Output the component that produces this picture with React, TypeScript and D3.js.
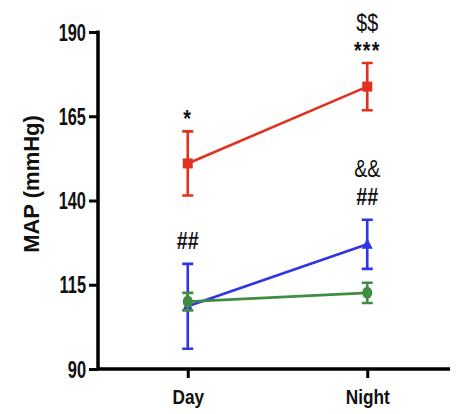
import * as d3 from "d3";
import React from "react";

// categories and values
const categories = ["Day", "Night"];
const yTicks = [90, 115, 140, 165, 190];

const redMeans = [151, 173.8];
const redErrors = [9.5, 7];
const redNotes = [["*"], ["***", "$$"]];

const blueMeans = [108.6, 127];
const blueErrors = [12.6, 7.3];
const blueNotes = [["##"], ["##", "&&"]];

const greenMeans = [110, 112.6];
const greenErrors = [2.6, 3];
const greenNotes: string[][] = [[], []];

const W = 461;
const H = 414;
const FONT = "'Liberation Sans', Arial, Helvetica, sans-serif";

export default function App() {
  const ref = React.useRef<SVGSVGElement>(null);

  React.useEffect(() => {
    if (!ref.current) return;
    const svg = d3.select(ref.current);
    svg.selectAll("*").remove();

    const left = 98;
    const top = 32;
    const bottom = 369;

    const y = d3.scaleLinear().domain([90, 190]).range([bottom, top]);
    const x = d3.scalePoint<string>().domain(categories).range([left, 457]).padding(0.5);

    const series = [
      { means: redMeans, errors: redErrors, notes: redNotes, color: "#e2321f", marker: "square" },
      { means: blueMeans, errors: blueErrors, notes: blueNotes, color: "#2f34e4", marker: "triangle" },
      { means: greenMeans, errors: greenErrors, notes: greenNotes, color: "#3f8c42", marker: "circle" },
    ];

    // y axis (labels squeezed to look like a condensed face)
    const yAxis = svg
      .append("g")
      .attr("transform", `translate(${left},0)`)
      .call(d3.axisLeft(y).tickValues(yTicks).tickSize(9).tickPadding(3).tickSizeOuter(0));
    yAxis.select(".domain").remove();
    yAxis.selectAll(".tick line").attr("stroke", "#000").attr("stroke-width", 3);
    yAxis
      .selectAll(".tick text")
      .attr("fill", "#111")
      .attr("font-family", FONT)
      .attr("font-weight", "bold")
      .attr("font-size", 20)
      .attr("dy", null)
      .attr("x", 0)
      .attr("y", 7)
      .attr("transform", "translate(-12,0) scale(0.82,1.15)");

    // x axis
    const xAxis = svg
      .append("g")
      .attr("transform", `translate(0,${bottom})`)
      .call(d3.axisBottom(x).tickSize(9).tickPadding(6).tickSizeOuter(0));
    xAxis.select(".domain").remove();
    xAxis.selectAll(".tick line").attr("stroke", "#000").attr("stroke-width", 3);
    xAxis
      .selectAll(".tick text")
      .attr("fill", "#111")
      .attr("font-family", FONT)
      .attr("font-weight", "bold")
      .attr("font-size", 21)
      .attr("dy", "0.95em")
      .attr("transform", "scale(0.82,1)");

    svg
      .append("path")
      .attr("d", `M${left},${top - 1.5}V${bottom}H450`)
      .attr("fill", "none")
      .attr("stroke", "#000")
      .attr("stroke-width", 3.5);

    svg
      .append("text")
      .attr("transform", `translate(39,184) rotate(-90)`)
      .attr("text-anchor", "middle")
      .attr("font-family", FONT)
      .attr("font-weight", "bold")
      .attr("font-size", 22)
      .attr("fill", "#111")
      .text("MAP (mmHg)");

    const line = d3
      .line<number>()
      .x((_, i) => x(categories[i]) as number)
      .y((d) => y(d));

    series.forEach((s) => {
      const g = svg.append("g");
      g.append("path")
        .attr("d", line(s.means))
        .attr("fill", "none")
        .attr("stroke", s.color)
        .attr("stroke-width", 2.6);

      s.means.forEach((m, i) => {
        const cx = x(categories[i]) as number;
        const hi = y(m + s.errors[i]);
        const lo = y(m - s.errors[i]);
        g.append("path")
          .attr("d", `M${cx},${hi}V${lo}M${cx - 5.5},${hi}H${cx + 5.5}M${cx - 5.5},${lo}H${cx + 5.5}`)
          .attr("fill", "none")
          .attr("stroke", s.color)
          .attr("stroke-width", 2.6);

        const cy = y(m);
        if (s.marker === "square") {
          g.append("rect")
            .attr("x", cx - 5)
            .attr("y", cy - 5)
            .attr("width", 10)
            .attr("height", 10)
            .attr("fill", s.color);
        } else if (s.marker === "triangle") {
          g.append("path")
            .attr("d", `M${cx},${cy - 6}L${cx + 5.5},${cy + 4.5}L${cx - 5.5},${cy + 4.5}Z`)
            .attr("fill", s.color);
        } else {
          g.append("ellipse")
            .attr("cx", cx)
            .attr("cy", cy)
            .attr("rx", 5)
            .attr("ry", 6)
            .attr("fill", s.color);
        }

        // significance marks stacked above the error bar
        const notes = s.notes[i];
        const gap = notes.length && notes[0].includes("*") ? 4 : 15;
        notes.forEach((t, k) => {
          svg
            .append("text")
            .attr("transform", `translate(${cx},${hi - gap - k * 28}) scale(0.82,1)`)
            .attr("text-anchor", "middle")
            .attr("font-family", FONT)
            .attr("font-weight", t === "$$" || t === "&&" ? "normal" : "bold")
            .attr("font-size", 24)
            .attr("letter-spacing", t.includes("*") ? 1.5 : 0)
            .attr("fill", "#111")
            .text(t);
        });
      });
    });
  }, []);

  return (
    <svg
      ref={ref}
      width={W}
      height={H}
      style={{ position: "absolute", left: 0, top: 0, background: "#fff" }}
    />
  );
}
